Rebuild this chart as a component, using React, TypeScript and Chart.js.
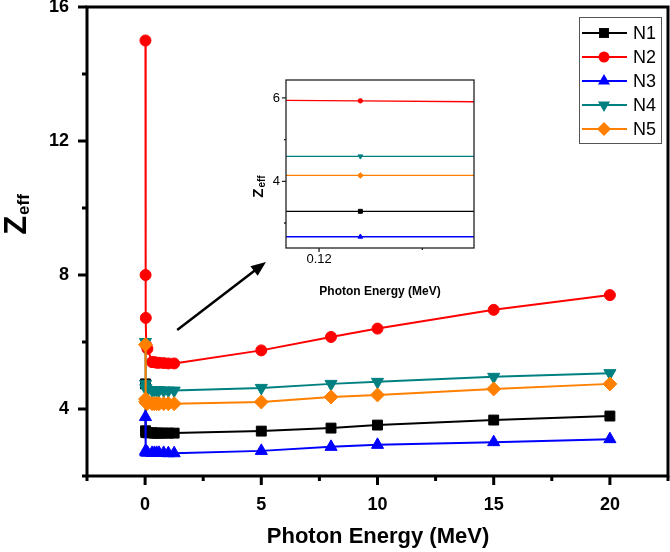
import React, { useEffect, useRef } from 'react';
import { Chart, registerables } from 'chart.js';

Chart.register(...registerables);

// ---------- data ----------
const energy = [0.015, 0.02, 0.03, 0.05, 0.1, 0.3, 0.4, 0.5, 0.6, 0.8, 1.0, 1.25, 5, 8, 10, 15, 20];
const N1 = [4.75, 3.35, 3.3, 3.3, 3.29, 3.29, 3.28, 3.28, 3.28, 3.28, 3.28, 3.28, 3.34, 3.43, 3.52, 3.67, 3.79];
const N2 = [15.0, 8.0, 6.72, 5.9, 5.8, 5.4, 5.4, 5.38, 5.38, 5.37, 5.36, 5.36, 5.75, 6.15, 6.4, 6.96, 7.4];
const N3 = [3.76, 2.75, 2.72, 2.7, 2.7, 2.69, 2.69, 2.69, 2.69, 2.69, 2.68, 2.68, 2.75, 2.87, 2.93, 3.01, 3.1];
const N4 = [6.0, 4.75, 4.62, 4.58, 4.57, 4.56, 4.56, 4.56, 4.56, 4.55, 4.55, 4.55, 4.63, 4.75, 4.81, 4.96, 5.07];
const N5 = [5.92, 4.3, 4.22, 4.18, 4.17, 4.16, 4.16, 4.16, 4.16, 4.16, 4.16, 4.16, 4.21, 4.36, 4.42, 4.6, 4.75];

const seriesNames = ['N1', 'N2', 'N3', 'N4', 'N5'];
const seriesValues = [N1, N2, N3, N4, N5];

const xTickValues = [0, 5, 10, 15, 20];
const xMinorValues = [-2.5, 2.5, 7.5, 12.5, 17.5, 22.5];
const yTickValues = [4, 8, 12, 16];
const yMinorValues = [2, 6, 10, 14];

// inset (zoom around 0.12 MeV)
const insetEnergy = [0.1, 0.124, 0.15];
const insetN1 = [3.28, 3.28, 3.28];
const insetN2 = [5.96, 5.93, 5.88];
const insetN3 = [2.67, 2.67, 2.67];
const insetN4 = [4.6, 4.6, 4.6];
const insetN5 = [4.14, 4.14, 4.14];
const insetValues = [insetN1, insetN2, insetN3, insetN4, insetN5];
const insetXTicks = [0.12];
const insetXMinor = [0.13];
const insetYTicks = [4, 6];
const insetYMinor = [3, 5];

// arrow annotation (data coordinates)
const arrowFrom = { x: 1.38, y: 6.36 };
const arrowTo = { x: 5.2, y: 8.39 };

// ---------- styles ----------
const colors = ['#000000', '#ff0000', '#0000ff', '#008080', '#ff8000'];
const pointStyles = ['rect', 'circle', 'triangle', 'triangle', 'rectRot'];
const pointRotations = [0, 0, 0, 180, 0];
const mainRadii = [7, 5.5, 7, 7, 7];
const insetRadii = [2.8, 2.2, 2.8, 2.8, 2.8];
const FONT = '"Liberation Sans", Arial, Helvetica, sans-serif';

function frameTicksPlugin(o: any) {
  return {
    id: 'frameTicks',
    afterDatasetsDraw(chart: any) {
      const { ctx, chartArea: a, scales } = chart;
      const x = scales.x, y = scales.y;
      ctx.save();
      ctx.strokeStyle = o.color;
      ctx.lineWidth = o.lw;
      ctx.lineCap = 'butt';
      ctx.strokeRect(a.left, a.top, a.right - a.left, a.bottom - a.top);
      ctx.beginPath();
      o.xMajor.forEach((v: number) => {
        const p = x.getPixelForValue(v);
        ctx.moveTo(p, a.bottom); ctx.lineTo(p, a.bottom + o.major);
      });
      o.xMinor.forEach((v: number) => {
        const p = x.getPixelForValue(v);
        ctx.moveTo(p, a.bottom); ctx.lineTo(p, a.bottom + o.minor);
      });
      o.yMajor.forEach((v: number) => {
        const p = y.getPixelForValue(v);
        ctx.moveTo(a.left, p); ctx.lineTo(a.left - o.major, p);
      });
      o.yMinor.forEach((v: number) => {
        const p = y.getPixelForValue(v);
        ctx.moveTo(a.left, p); ctx.lineTo(a.left - o.minor, p);
      });
      ctx.stroke();
      ctx.restore();
    },
  };
}

function titlesPlugin(o: any) {
  return {
    id: 'titles',
    afterDraw(chart: any) {
      const { ctx } = chart;
      ctx.save();
      ctx.fillStyle = '#000';
      // x title
      ctx.font = `bold ${o.xSize}px ${FONT}`;
      ctx.textAlign = 'center';
      ctx.textBaseline = 'middle';
      ctx.fillText('Photon Energy (MeV)', o.xTitleX, o.xTitleY);
      // y title Z_eff
      ctx.translate(o.yTitleX, o.yTitleY);
      ctx.rotate(-Math.PI / 2);
      ctx.textBaseline = 'alphabetic';
      ctx.textAlign = 'left';
      ctx.font = `bold ${o.zSize}px ${FONT}`;
      const wz = ctx.measureText('Z').width;
      ctx.font = `bold ${o.subSize}px ${FONT}`;
      const ws = ctx.measureText('eff').width;
      const start = -(wz + ws) / 2;
      ctx.font = `bold ${o.zSize}px ${FONT}`;
      ctx.fillText('Z', start, 0);
      ctx.font = `bold ${o.subSize}px ${FONT}`;
      ctx.fillText('eff', start + wz + 1, o.subDrop);
      ctx.restore();
    },
  };
}

function drawMarker(ctx: CanvasRenderingContext2D, style: string, r: number, rot: number, x: number, y: number, color: string) {
  ctx.save();
  ctx.fillStyle = color;
  ctx.translate(x, y);
  ctx.rotate((rot * Math.PI) / 180);
  ctx.beginPath();
  if (style === 'circle') {
    ctx.arc(0, 0, r, 0, Math.PI * 2);
  } else if (style === 'rect') {
    const s = r / Math.SQRT2;
    ctx.rect(-s, -s, 2 * s, 2 * s);
  } else if (style === 'rectRot') {
    ctx.moveTo(0, -r); ctx.lineTo(r, 0); ctx.lineTo(0, r); ctx.lineTo(-r, 0); ctx.closePath();
  } else if (style === 'triangle') {
    ctx.moveTo(0, -r);
    ctx.lineTo(r * Math.cos(Math.PI / 6), r / 2);
    ctx.lineTo(-r * Math.cos(Math.PI / 6), r / 2);
    ctx.closePath();
  }
  ctx.fill();
  ctx.restore();
}

const legendPlugin = {
  id: 'customLegend',
  afterDraw(chart: any) {
    const { ctx } = chart;
    const box = { left: 579, top: 17, w: 82, h: 126 };
    ctx.save();
    ctx.fillStyle = '#fff';
    ctx.fillRect(box.left, box.top, box.w, box.h);
    ctx.strokeStyle = '#555';
    ctx.lineWidth = 1;
    ctx.strokeRect(box.left + 0.5, box.top + 0.5, box.w, box.h);
    seriesNames.forEach((name, i) => {
      const cy = box.top + 16 + i * 24;
      ctx.strokeStyle = colors[i];
      ctx.lineWidth = 2;
      ctx.beginPath();
      ctx.moveTo(box.left + 3, cy);
      ctx.lineTo(box.left + 48, cy);
      ctx.stroke();
      drawMarker(ctx, pointStyles[i], mainRadii[i], pointRotations[i], box.left + 25, cy, colors[i]);
      ctx.fillStyle = '#000';
      ctx.font = `18px ${FONT}`;
      ctx.textAlign = 'left';
      ctx.textBaseline = 'middle';
      ctx.fillText(name, box.left + 54, cy + 1);
    });
    ctx.restore();
  },
};

const arrowPlugin = {
  id: 'arrow',
  afterDraw(chart: any) {
    const { ctx, scales } = chart;
    const x1 = scales.x.getPixelForValue(arrowFrom.x), y1 = scales.y.getPixelForValue(arrowFrom.y);
    const x2 = scales.x.getPixelForValue(arrowTo.x), y2 = scales.y.getPixelForValue(arrowTo.y);
    const ang = Math.atan2(y2 - y1, x2 - x1);
    const headLen = 15, headW = 6;
    ctx.save();
    ctx.strokeStyle = '#000';
    ctx.fillStyle = '#000';
    ctx.lineWidth = 2.5;
    ctx.beginPath();
    ctx.moveTo(x1, y1);
    ctx.lineTo(x2 - Math.cos(ang) * headLen * 0.8, y2 - Math.sin(ang) * headLen * 0.8);
    ctx.stroke();
    ctx.beginPath();
    ctx.moveTo(x2, y2);
    ctx.lineTo(x2 - Math.cos(ang) * headLen - Math.sin(ang) * headW, y2 - Math.sin(ang) * headLen + Math.cos(ang) * headW);
    ctx.lineTo(x2 - Math.cos(ang) * headLen + Math.sin(ang) * headW, y2 - Math.sin(ang) * headLen - Math.cos(ang) * headW);
    ctx.closePath();
    ctx.fill();
    ctx.restore();
  },
};

function makeDatasets(xs: number[], vals: number[][], radii: number[], lw: number) {
  return vals.map((s, i) => ({
    label: seriesNames[i],
    data: xs.map((e, j) => ({ x: e, y: s[j] })),
    showLine: true,
    borderColor: colors[i],
    backgroundColor: colors[i],
    borderWidth: lw,
    pointStyle: pointStyles[i],
    pointRotation: pointRotations[i],
    pointRadius: radii[i],
    pointBorderWidth: 1,
    pointBorderColor: colors[i],
    pointBackgroundColor: colors[i],
    order: 5 - i,
    tension: 0,
  }));
}

export default function App() {
  const mainRef = useRef<HTMLCanvasElement>(null);
  const insetRef = useRef<HTMLCanvasElement>(null);

  useEffect(() => {
    document.body.style.margin = '0';
    const main = new Chart(mainRef.current as HTMLCanvasElement, {
      type: 'scatter',
      data: { datasets: makeDatasets(energy, seriesValues, mainRadii, 2) as any },
      options: {
        responsive: false,
        animation: false,
        events: [],
        layout: { padding: { top: 7, right: 2, left: 0, bottom: 0 }, autoPadding: false } as any,
        plugins: { legend: { display: false }, tooltip: { enabled: false } },
        scales: {
          x: {
            type: 'linear',
            min: -2.5,
            max: 22.5,
            afterBuildTicks: (s: any) => { s.ticks = xTickValues.map((v) => ({ value: v })); },
            afterFit: (s: any) => { s.height = 76; s.paddingLeft = 0; s.paddingRight = 0; },
            ticks: { font: { family: FONT, size: 18, weight: 'bold' }, color: '#000', padding: 18, maxRotation: 0, autoSkip: false },
            grid: { display: false, drawTicks: false },
            border: { display: false },
          },
          y: {
            type: 'linear',
            min: 2,
            max: 16,
            afterBuildTicks: (s: any) => { s.ticks = yTickValues.map((v) => ({ value: v })); },
            afterFit: (s: any) => { s.width = 87; s.paddingTop = 0; s.paddingBottom = 0; },
            ticks: { font: { family: FONT, size: 18, weight: 'bold' }, color: '#000', padding: 18, autoSkip: false },
            grid: { display: false, drawTicks: false },
            border: { display: false },
          },
        },
      } as any,
      plugins: [
        frameTicksPlugin({ color: '#000', lw: 3, major: 9, minor: 5, xMajor: xTickValues, xMinor: xMinorValues, yMajor: yTickValues, yMinor: yMinorValues }),
        arrowPlugin,
        legendPlugin,
        titlesPlugin({ xSize: 22, xTitleX: 378, xTitleY: 537, yTitleX: 26, yTitleY: 215, zSize: 31, subSize: 17, subDrop: 3 }),
      ],
    });

    const inset = new Chart(insetRef.current as HTMLCanvasElement, {
      type: 'scatter',
      data: { datasets: makeDatasets(insetEnergy, insetValues, insetRadii, 1.3) as any },
      options: {
        responsive: false,
        animation: false,
        events: [],
        layout: { padding: { top: 10, right: 12, left: 0, bottom: 0 }, autoPadding: false } as any,
        plugins: { legend: { display: false }, tooltip: { enabled: false } },
        scales: {
          x: {
            type: 'linear',
            min: 0.1168,
            max: 0.135,
            afterBuildTicks: (s: any) => { s.ticks = insetXTicks.map((v) => ({ value: v })); },
            afterFit: (s: any) => { s.height = 62; s.paddingLeft = 0; s.paddingRight = 0; },
            ticks: { font: { family: FONT, size: 13 }, color: '#000', padding: 4, maxRotation: 0, autoSkip: false, callback: (v: any) => Number(v).toFixed(2) },
            grid: { display: false, drawTicks: false },
            border: { display: false },
          },
          y: {
            type: 'linear',
            min: 2.4,
            max: 6.43,
            afterBuildTicks: (s: any) => { s.ticks = insetYTicks.map((v) => ({ value: v })); },
            afterFit: (s: any) => { s.width = 50; s.paddingTop = 0; s.paddingBottom = 0; },
            ticks: { font: { family: FONT, size: 13 }, color: '#000', padding: 6, autoSkip: false },
            grid: { display: false, drawTicks: false },
            border: { display: false },
          },
        },
      } as any,
      plugins: [
        frameTicksPlugin({ color: '#222', lw: 1.3, major: 4, minor: 2, xMajor: insetXTicks, xMinor: insetXMinor, yMajor: insetYTicks, yMinor: insetYMinor }),
        titlesPlugin({ xSize: 12, xTitleX: 144, xTitleY: 222, yTitleX: 27, yTitleY: 117, zSize: 15, subSize: 10, subDrop: 2 }),
      ],
    });

    return () => {
      main.destroy();
      inset.destroy();
    };
  }, []);

  return (
    <div style={{ position: 'relative', width: 670, height: 552, background: '#fff' }}>
      <canvas ref={mainRef} width={670} height={552} style={{ position: 'absolute', left: 0, top: 0, width: 670, height: 552 }} />
      <canvas ref={insetRef} width={250} height={240} style={{ position: 'absolute', left: 236, top: 70, width: 250, height: 240 }} />
    </div>
  );
}
